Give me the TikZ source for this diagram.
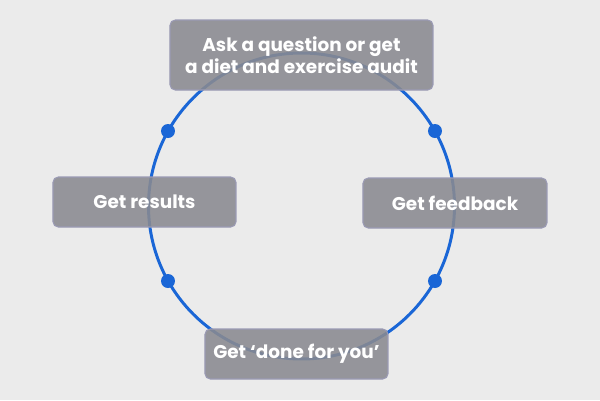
\documentclass[tikz,border=0pt]{standalone}
\usepackage{fontspec}
\setmainfont{Poppins}
\usetikzlibrary{positioning}
\definecolor{bggray}{HTML}{EBEBEB}
\definecolor{ringblue}{HTML}{1A66D6}
\definecolor{boxgray}{HTML}{8A8A90}
\definecolor{boxedge}{HTML}{9A9AB4}
\tikzset{
	stepcard/.style={draw=boxedge, line width=0.6pt, fill=boxgray, fill opacity=0.88, text opacity=1, rounded corners=3pt, text=white, font=\bfseries\fontsize{10.5}{12.6}\selectfont, align=center, inner sep=0pt},
	ringdot/.style={circle, fill=ringblue, inner sep=0pt, minimum size=14*0.02cm}
}
\begin{document}
\begin{tikzpicture}[x=0.02cm, y=-0.02cm]
		
		\fill[bggray] (0,0) rectangle (600,400);
		
		\coordinate (hub) at (301.5,206);
		\draw[ringblue, line width=1.7pt] (hub) circle [radius=153*0.02cm];
		
		\node[ringdot] (d1) at (435,131) {};
		\node[ringdot] (d2) at (435,281) {};
		\node[ringdot] (d3) at (168,281) {};
		\node[ringdot] (d4) at (168,131) {};
		
		\node[stepcard, minimum width=263*0.02cm, minimum height=70*0.02cm] (ask) at (301.5,55) {Ask a question or get\\a diet and exercise audit};
		\node[stepcard, minimum width=184*0.02cm, minimum height=50*0.02cm] (feedback) at (455,203) {Get feedback};
		\node[stepcard, minimum width=183*0.02cm, minimum height=50*0.02cm] (done) at (296.5,354) {Get `done for you'};
		\node[stepcard, minimum width=183*0.02cm, minimum height=50*0.02cm] (results) at (144.5,202) {Get results};
		
\end{tikzpicture}
\end{document}
